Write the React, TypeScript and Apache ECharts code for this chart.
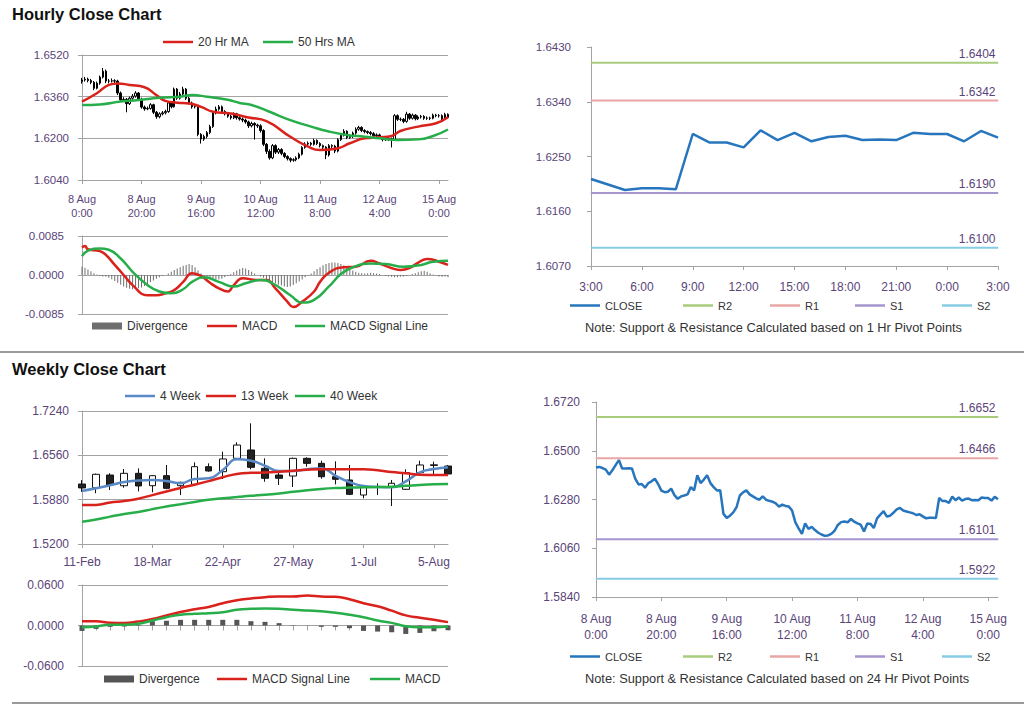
import { useEffect, useRef } from "react";
import * as echarts from "echarts";

const FONT = "'Liberation Sans', Arial, sans-serif";
const LABEL = "#5a4479";
const GRAY = "#a3a3a3";
const RED = "#d9221c";
const GREEN = "#27ae4a";
const BLUE4 = "#5a8ac6";
const CLOSE_BLUE = "#2776bd";
const LINE_ICON = "path://M0,0H12V1H0Z";

// ---------- Hourly data (8 Aug 0:00 .. 15 Aug 3:00) ----------
const hourlyTickLabels = ["8 Aug\n0:00", "8 Aug\n20:00", "9 Aug\n16:00", "10 Aug\n12:00", "11 Aug\n8:00", "12 Aug\n4:00", "15 Aug\n0:00"];

const hourlyClose = [
  1.6424, 1.6427, 1.6422, 1.6415, 1.6392, 1.6412, 1.6435, 1.6458, 1.6420, 1.6420,
  1.6421, 1.6420, 1.6374, 1.6348, 1.6350, 1.6333, 1.6354, 1.6362, 1.6374, 1.6350,
  1.6320, 1.6313, 1.6315, 1.6329, 1.6300, 1.6283, 1.6294, 1.6298, 1.6303, 1.6336,
  1.6321, 1.6389, 1.6354, 1.6370, 1.6389, 1.6354, 1.6336, 1.6321, 1.6322, 1.6215,
  1.6197, 1.6207, 1.6222, 1.6245, 1.6298, 1.6312, 1.6321, 1.6303, 1.6294, 1.6285,
  1.6279, 1.6294, 1.6279, 1.6274, 1.6270, 1.6263, 1.6248, 1.6257, 1.6251, 1.6248,
  1.6230, 1.6177, 1.6150, 1.6125, 1.6172, 1.6147, 1.6157, 1.6142, 1.6130, 1.6122,
  1.6116, 1.6118, 1.6125, 1.6139, 1.6165, 1.6178, 1.6181, 1.6177, 1.6192, 1.6180,
  1.6172, 1.6166, 1.6136, 1.6172, 1.6170, 1.6151, 1.6195, 1.6212, 1.6227, 1.6203,
  1.6207, 1.6220, 1.6235, 1.6242, 1.6230, 1.6226, 1.6222, 1.6218, 1.6210, 1.6213,
  1.6204, 1.6195, 1.6198, 1.6198, 1.6196, 1.6287, 1.6273, 1.6273, 1.6265, 1.6293,
  1.6277, 1.6289, 1.6275, 1.6282, 1.6284, 1.6277, 1.6278, 1.6277, 1.6289, 1.6287,
  1.6287, 1.6275, 1.6292, 1.6281,
];

const hourlyOpen = [
  1.6418, 1.6424, 1.6427, 1.6422, 1.6415, 1.6392, 1.6412, 1.6435, 1.6458, 1.6420,
  1.6420, 1.6421, 1.6420, 1.6374, 1.6348, 1.6350, 1.6333, 1.6354, 1.6362, 1.6374,
  1.6350, 1.6320, 1.6313, 1.6315, 1.6329, 1.6300, 1.6283, 1.6294, 1.6298, 1.6303,
  1.6336, 1.6321, 1.6389, 1.6354, 1.6370, 1.6389, 1.6354, 1.6336, 1.6321, 1.6322,
  1.6215, 1.6197, 1.6207, 1.6222, 1.6245, 1.6298, 1.6312, 1.6321, 1.6303, 1.6294,
  1.6285, 1.6279, 1.6294, 1.6279, 1.6274, 1.6270, 1.6263, 1.6248, 1.6257, 1.6251,
  1.6248, 1.6230, 1.6177, 1.6150, 1.6125, 1.6172, 1.6147, 1.6157, 1.6142, 1.6130,
  1.6122, 1.6116, 1.6118, 1.6125, 1.6139, 1.6165, 1.6178, 1.6181, 1.6177, 1.6192,
  1.6180, 1.6172, 1.6166, 1.6136, 1.6172, 1.6170, 1.6151, 1.6195, 1.6212, 1.6227,
  1.6203, 1.6207, 1.6220, 1.6235, 1.6242, 1.6230, 1.6226, 1.6222, 1.6218, 1.6210,
  1.6213, 1.6204, 1.6195, 1.6198, 1.6198, 1.6196, 1.6287, 1.6273, 1.6273, 1.6265,
  1.6293, 1.6277, 1.6289, 1.6275, 1.6282, 1.6284, 1.6277, 1.6278, 1.6277, 1.6289,
  1.6287, 1.6287, 1.6275, 1.6292,
];

const hourlyHigh = [
  1.6432, 1.6436, 1.6433, 1.6428, 1.6420, 1.6418, 1.6441, 1.6470, 1.6464, 1.6428,
  1.6430, 1.6427, 1.6425, 1.6380, 1.6358, 1.6355, 1.6360, 1.6370, 1.6381, 1.6378,
  1.6356, 1.6326, 1.6322, 1.6335, 1.6333, 1.6305, 1.6300, 1.6305, 1.6310, 1.6342,
  1.6340, 1.6395, 1.6393, 1.6378, 1.6398, 1.6393, 1.6360, 1.6341, 1.6330, 1.6326,
  1.6220, 1.6214, 1.6228, 1.6252, 1.6304, 1.6322, 1.6328, 1.6326, 1.6308, 1.6300,
  1.6291, 1.6300, 1.6298, 1.6285, 1.6280, 1.6276, 1.6268, 1.6264, 1.6262, 1.6256,
  1.6254, 1.6235, 1.6182, 1.6158, 1.6178, 1.6177, 1.6163, 1.6162, 1.6147, 1.6135,
  1.6127, 1.6124, 1.6131, 1.6145, 1.6170, 1.6185, 1.6188, 1.6186, 1.6199, 1.6196,
  1.6185, 1.6176, 1.6170, 1.6178, 1.6177, 1.6175, 1.6200, 1.6218, 1.6235, 1.6231,
  1.6214, 1.6226, 1.6242, 1.6248, 1.6246, 1.6235, 1.6230, 1.6228, 1.6224, 1.6219,
  1.6218, 1.6209, 1.6204, 1.6205, 1.6203, 1.6293, 1.6292, 1.6280, 1.6278, 1.6302,
  1.6297, 1.6295, 1.6293, 1.6288, 1.6290, 1.6289, 1.6284, 1.6283, 1.6295, 1.6294,
  1.6293, 1.6292, 1.6298, 1.6296,
];

const hourlyLow = [
  1.6410, 1.6418, 1.6415, 1.6408, 1.6385, 1.6388, 1.6406, 1.6430, 1.6412, 1.6411,
  1.6414, 1.6410, 1.6366, 1.6340, 1.6341, 1.6300, 1.6328, 1.6348, 1.6356, 1.6343,
  1.6314, 1.6306, 1.6308, 1.6310, 1.6293, 1.6275, 1.6277, 1.6288, 1.6292, 1.6298,
  1.6315, 1.6318, 1.6348, 1.6349, 1.6364, 1.6347, 1.6330, 1.6314, 1.6315, 1.6208,
  1.6180, 1.6190, 1.6200, 1.6216, 1.6240, 1.6292, 1.6306, 1.6297, 1.6288, 1.6279,
  1.6272, 1.6274, 1.6272, 1.6268, 1.6262, 1.6256, 1.6240, 1.6242, 1.6195, 1.6240,
  1.6222, 1.6170, 1.6140, 1.6118, 1.6120, 1.6140, 1.6140, 1.6135, 1.6124, 1.6115,
  1.6108, 1.6110, 1.6112, 1.6120, 1.6134, 1.6160, 1.6172, 1.6171, 1.6172, 1.6174,
  1.6165, 1.6158, 1.6120, 1.6130, 1.6163, 1.6143, 1.6146, 1.6190, 1.6207, 1.6197,
  1.6198, 1.6201, 1.6214, 1.6229, 1.6224, 1.6219, 1.6216, 1.6211, 1.6204, 1.6204,
  1.6198, 1.6188, 1.6190, 1.6190, 1.6165, 1.6192, 1.6267, 1.6266, 1.6258, 1.6260,
  1.6271, 1.6272, 1.6269, 1.6270, 1.6276, 1.6271, 1.6271, 1.6270, 1.6273, 1.6281,
  1.6280, 1.6269, 1.6271, 1.6275,
];

// [hour index, value] points
const ma20Hr = [
  [0, 1.6341], [5, 1.6373], [9, 1.6405], [12, 1.6411], [16, 1.6405], [21, 1.6396], [25, 1.6366],
  [28, 1.6344], [32, 1.6337], [36, 1.6334], [40, 1.6321], [44, 1.6302], [50, 1.6295], [56, 1.6280],
  [62, 1.6266], [70, 1.6206], [76, 1.6168], [80, 1.6155], [86, 1.6162], [90, 1.6181], [95, 1.6200],
  [100, 1.6204], [104, 1.6209], [107, 1.6228], [113, 1.6245], [119, 1.6258], [123, 1.6281],
];
const ma50Hrs = [
  [0, 1.6328], [6, 1.6330], [13, 1.6341], [19, 1.6347], [26, 1.6356], [33, 1.6360], [37, 1.6366],
  [42, 1.6360], [49, 1.6348], [53, 1.6336], [57, 1.6328], [63, 1.6302], [70, 1.6270], [77, 1.6245],
  [83, 1.6226], [89, 1.6213], [95, 1.6206], [100, 1.6200], [106, 1.6194], [113, 1.6196], [118, 1.6209],
  [123, 1.6234],
];

const hourlyMacd = [
  [0, 0.0060], [1, 0.0063], [2, 0.0056], [6, 0.0052], [8, 0.0044], [11, 0.0022], [14, 0.0000],
  [17, -0.0022], [22, -0.0044], [25, -0.0044], [28, -0.0040], [31, -0.0033], [34, -0.0015],
  [37, 0.0004], [40, -0.0002], [43, -0.0017], [46, -0.0029], [49, -0.0036], [51, -0.0022],
  [54, -0.0007], [59, -0.0011], [62, -0.0011], [65, -0.0029], [69, -0.0058], [71, -0.0070],
  [74, -0.0058], [78, -0.0036], [80, -0.0015], [83, 0.0005], [88, 0.0017], [92, 0.0018],
  [97, 0.0031], [100, 0.0025], [104, 0.0015], [107, 0.0011], [110, 0.0015], [113, 0.0027],
  [116, 0.0035], [120, 0.0029], [123, 0.0022],
];
const hourlySignal = [
  [0, 0.0041], [2, 0.0053], [6, 0.0058], [9, 0.0055], [13, 0.0036], [17, 0.0007], [22, -0.0022],
  [26, -0.0036], [30, -0.0040], [34, -0.0031], [37, -0.0015], [41, -0.0005], [46, -0.0015],
  [51, -0.0025], [55, -0.0018], [60, -0.0011], [64, -0.0018], [70, -0.0044], [74, -0.0060],
  [78, -0.0054], [83, -0.0025], [87, 0.0002], [91, 0.0017], [97, 0.0025], [102, 0.0024],
  [108, 0.0018], [114, 0.0022], [118, 0.0029], [123, 0.0031],
];
const hourlyDivergence = [
  0.0018, 0.0016, 0.0012, 0.0008, 0.0004, 0.0001, -0.0002, -0.0003, -0.0004, -0.0006,
  -0.0009, -0.0013, -0.0017, -0.0021, -0.0025, -0.0028, -0.0030, -0.0031, -0.0030, -0.0029,
  -0.0027, -0.0024, -0.0020, -0.0016, -0.0012, -0.0008, -0.0005, -0.0002, 0.0000, 0.0003,
  0.0007, 0.0011, 0.0014, 0.0017, 0.0020, 0.0022, 0.0024, 0.0022, 0.0017, 0.0010,
  0.0003, -0.0002, -0.0005, -0.0008, -0.0010, -0.0011, -0.0010, -0.0008, -0.0005, -0.0002,
  0.0002, 0.0006, 0.0010, 0.0013, 0.0015, 0.0014, 0.0011, 0.0007, 0.0003, 0.0000,
  -0.0003, -0.0006, -0.0009, -0.0012, -0.0015, -0.0018, -0.0021, -0.0023, -0.0025, -0.0026,
  -0.0025, -0.0022, -0.0018, -0.0014, -0.0010, -0.0005, -0.0001, 0.0003, 0.0008, 0.0013,
  0.0017, 0.0021, 0.0024, 0.0026, 0.0027, 0.0027, 0.0026, 0.0024, 0.0021, 0.0017,
  0.0013, 0.0010, 0.0007, 0.0005, 0.0004, 0.0003, 0.0004, 0.0005, 0.0004, 0.0003,
  0.0002, 0.0000, -0.0002, -0.0003, -0.0004, -0.0005, -0.0005, -0.0004, -0.0003, -0.0002,
  0.0000, 0.0002, 0.0004, 0.0006, 0.0008, 0.0009, 0.0007, 0.0004, 0.0001, -0.0001,
  -0.0003, -0.0004, -0.0003, -0.0005,
];

// ---------- Last 24 hours (1 Hr pivots) ----------
const oneHourTicks = ["3:00", "6:00", "9:00", "12:00", "15:00", "18:00", "21:00", "0:00", "3:00"];
const oneHourClose = [
  1.6213, 1.6204, 1.6195, 1.6198, 1.6198, 1.6196, 1.6287, 1.6273, 1.6273, 1.6265,
  1.6293, 1.6277, 1.6289, 1.6275, 1.6282, 1.6284, 1.6277, 1.6278, 1.6277, 1.6289,
  1.6287, 1.6287, 1.6275, 1.6292, 1.6281,
];
const pivotNames = ["R2", "R1", "S1", "S2"];
const pivotColors = ["#a8cc7c", "#eaa6a6", "#a696cf", "#87cbe5"];
const oneHourPivots = [1.6404, 1.6342, 1.6190, 1.6100];
const dayPivots = [1.6652, 1.6466, 1.6101, 1.5922];

// ---------- Weekly data ----------
const weeklyDates = [
  "11-Feb", "18-Feb", "25-Feb", "4-Mar", "11-Mar", "18-Mar", "25-Mar", "1-Apr", "8-Apr",
  "15-Apr", "22-Apr", "29-Apr", "6-May", "13-May", "20-May", "27-May", "3-Jun", "10-Jun",
  "17-Jun", "24-Jun", "1-Jul", "8-Jul", "15-Jul", "22-Jul", "29-Jul", "5-Aug", "12-Aug",
];
const weeklyOpen = [
  1.6120, 1.6063, 1.6258, 1.6094, 1.6284, 1.6094, 1.6248, 1.6094, 1.6115, 1.6386,
  1.6309, 1.6514, 1.6642, 1.6361, 1.6258, 1.6243, 1.6514, 1.6437, 1.6232, 1.6182,
  1.5951, 1.6075, 1.6069, 1.6039, 1.6294, 1.6405, 1.6396,
];
const weeklyClose = [
  1.6060, 1.6269, 1.6105, 1.6284, 1.6090, 1.6248, 1.6054, 1.6146, 1.6386, 1.6320,
  1.6504, 1.6718, 1.6376, 1.6208, 1.6208, 1.6514, 1.6437, 1.6232, 1.6192, 1.5962,
  1.6069, 1.6082, 1.6131, 1.6294, 1.6412, 1.6415, 1.6274,
];
const weeklyLow = [
  1.6000, 1.5978, 1.6028, 1.6063, 1.6006, 1.5993, 1.6040, 1.5951, 1.6100, 1.6309,
  1.6197, 1.6504, 1.6346, 1.6155, 1.6105, 1.6074, 1.6386, 1.6202, 1.6114, 1.5951,
  1.5900, 1.5951, 1.5783, 1.6028, 1.6258, 1.6260, 1.6258,
];
const weeklyHigh = [
  1.6180, 1.6280, 1.6284, 1.6350, 1.6360, 1.6258, 1.6412, 1.6155, 1.6452, 1.6437,
  1.6616, 1.6760, 1.7051, 1.6514, 1.6309, 1.6525, 1.6530, 1.6478, 1.6468, 1.6412,
  1.6105, 1.6130, 1.6182, 1.6346, 1.6478, 1.6463, 1.6412,
];
const ma4Week = [
  1.6013, 1.6054, 1.6100, 1.6150, 1.6175, 1.6180, 1.6166, 1.6131, 1.6197, 1.6208,
  1.6335, 1.6499, 1.6478, 1.6400, 1.6320, 1.6320, 1.6346, 1.6361, 1.6250, 1.6150,
  1.6090, 1.6075, 1.6069, 1.6160, 1.6300, 1.6350, 1.6376,
];
const ma13Week = [
  1.5798, 1.5800, 1.5835, 1.5860, 1.5895, 1.5950, 1.6005, 1.6060, 1.6110, 1.6165,
  1.6225, 1.6275, 1.6292, 1.6296, 1.6309, 1.6325, 1.6340, 1.6346, 1.6346, 1.6346,
  1.6346, 1.6330, 1.6305, 1.6285, 1.6262, 1.6258, 1.6258,
];
const ma40Week = [
  1.5542, 1.5575, 1.5620, 1.5660, 1.5690, 1.5735, 1.5775, 1.5809, 1.5845, 1.5880,
  1.5901, 1.5920, 1.5940, 1.5955, 1.5975, 1.6000, 1.6025, 1.6045, 1.6058, 1.6065,
  1.6069, 1.6074, 1.6080, 1.6092, 1.6105, 1.6115, 1.6120,
];
const weeklyDivergence = [
  -0.0080, -0.0050, -0.0020, -0.0015, 0.0010, 0.0064, 0.0070, 0.0084, 0.0084, 0.0084,
  0.0084, 0.0084, 0.0064, 0.0054, 0.0035, 0.0005, 0.0002, -0.0020, -0.0020, -0.0040,
  -0.0080, -0.0090, -0.0100, -0.0125, -0.0110, -0.0085, -0.0070,
];
const weeklySignal = [
  0.0064, 0.0062, 0.0040, 0.0036, 0.0059, 0.0095, 0.0150, 0.0200, 0.0240, 0.0275,
  0.0330, 0.0375, 0.0400, 0.0420, 0.0430, 0.0430, 0.0445, 0.0430, 0.0425, 0.0390,
  0.0330, 0.0285, 0.0220, 0.0150, 0.0115, 0.0085, 0.0050,
];
const weeklyMacd = [
  -0.0025, -0.0015, 0.0010, 0.0010, 0.0025, 0.0074, 0.0123, 0.0158, 0.0173, 0.0183,
  0.0197, 0.0232, 0.0247, 0.0252, 0.0247, 0.0232, 0.0222, 0.0212, 0.0188, 0.0158,
  0.0123, 0.0074, 0.0039, -0.0010, -0.0025, -0.0025, -0.0015,
];

// ---------- helpers ----------
const f4 = (v: number) => v.toFixed(4);

function yAx(gridIndex: number, min: number, max: number, interval: number, split: boolean, margin: number, fontSize: number) {
  return {
    type: "value", gridIndex, min, max, interval,
    axisLine: { show: true, lineStyle: { color: GRAY, width: 1 } },
    axisTick: { show: true, length: 4, lineStyle: { color: GRAY } },
    splitLine: { show: split, lineStyle: { color: GRAY, width: 1 } },
    axisLabel: { color: LABEL, fontSize, fontFamily: FONT, margin, formatter: f4 },
  };
}

function lg(name: string, left: number, top: number, icon: string = LINE_ICON, fontSize = 12) {
  return {
    data: [{ name, icon }], left, top, padding: 0, itemWidth: 30, itemHeight: 7,
    selectedMode: false, textStyle: { fontSize, color: "#333", fontFamily: FONT },
  };
}

function pivot(name: string, level: number, color: string, lastIndex: number) {
  return {
    name, type: "line", symbol: "circle", symbolSize: 1, showSymbol: true,
    data: [
      [0, level],
      {
        value: [lastIndex, level],
        label: { show: true, position: "left", offset: [0, -9], distance: 2, formatter: f4(level), color: LABEL, fontSize: 12, fontFamily: FONT },
      },
    ],
    lineStyle: { color, width: 2 }, itemStyle: { color },
  };
}

function hourLabel(v: string) {
  const i = Number(v);
  return i % 20 === 0 ? hourlyTickLabels[i / 20] ?? "" : "";
}

const hourCats = hourlyClose.map((_, i) => String(i));
const oneHourCats = oneHourClose.map((_, i) => String(i));

// ---------- options ----------
const optHourlyLeft = {
  animation: false,
  title: { text: "Hourly Close Chart", left: 12, top: 5, padding: 0, textStyle: { fontSize: 16.5, fontWeight: "bold", color: "#111", fontFamily: FONT } },
  legend: [
    lg("20 Hr MA", 163, 36), lg("50 Hrs MA", 263, 36),
    lg("Divergence", 92, 320, "rect"), lg("MACD", 207, 320), lg("MACD Signal Line", 295, 320),
  ],
  grid: [
    { left: 82, top: 55, width: 366, height: 125 },
    { left: 82, top: 236, width: 366, height: 78 },
  ],
  xAxis: [
    {
      type: "category", gridIndex: 0, data: hourCats, boundaryGap: false,
      axisLine: { lineStyle: { color: GRAY } },
      axisTick: { show: true, interval: 19, length: 4, lineStyle: { color: GRAY } },
      axisLabel: { interval: 19, formatter: hourLabel, color: LABEL, fontSize: 11, fontFamily: FONT, lineHeight: 14, margin: 12 },
      splitLine: { show: false },
    },
    {
      type: "category", gridIndex: 1, data: hourCats, boundaryGap: false,
      axisLine: { onZero: true, lineStyle: { color: GRAY } },
      axisTick: { show: false }, axisLabel: { show: false }, splitLine: { show: false },
    },
  ],
  yAxis: [
    yAx(0, 1.6040, 1.6520, 0.016, true, 13, 11.5),
    yAx(1, -0.0085, 0.0085, 0.0085, true, 18, 11.5),
  ],
  series: [
    {
      name: "Hourly", type: "candlestick", xAxisIndex: 0, yAxisIndex: 0, barWidth: 2, clip: true,
      data: hourlyClose.map((c, i) => [hourlyOpen[i], c, hourlyLow[i], hourlyHigh[i]]),
      itemStyle: { color: "#fff", color0: "#000", borderColor: "#000", borderColor0: "#000", borderWidth: 1 },
    },
    { name: "20 Hr MA", type: "line", xAxisIndex: 0, yAxisIndex: 0, data: ma20Hr, smooth: true, symbol: "none", lineStyle: { color: RED, width: 2.5 }, itemStyle: { color: RED } },
    { name: "50 Hrs MA", type: "line", xAxisIndex: 0, yAxisIndex: 0, data: ma50Hrs, smooth: true, symbol: "none", lineStyle: { color: GREEN, width: 2.5 }, itemStyle: { color: GREEN } },
    { name: "Divergence", type: "bar", xAxisIndex: 1, yAxisIndex: 1, data: hourlyDivergence, barWidth: 1, itemStyle: { color: "#6e6e6e" } },
    { name: "MACD", type: "line", xAxisIndex: 1, yAxisIndex: 1, data: hourlyMacd, smooth: true, symbol: "none", lineStyle: { color: RED, width: 2.5 }, itemStyle: { color: RED } },
    { name: "MACD Signal Line", type: "line", xAxisIndex: 1, yAxisIndex: 1, data: hourlySignal, smooth: true, symbol: "none", lineStyle: { color: GREEN, width: 2.5 }, itemStyle: { color: GREEN } },
  ],
};

const rightLegends = (top: number) => [
  lg("CLOSE", 58, top, LINE_ICON, 11), lg("R2", 171, top, LINE_ICON, 11), lg("R1", 258, top, LINE_ICON, 11),
  lg("S1", 343, top, LINE_ICON, 11), lg("S2", 430, top, LINE_ICON, 11),
];

const optOneHour = {
  animation: false,
  legend: rightLegends(300),
  grid: { left: 79, top: 47, width: 407, height: 219 },
  xAxis: {
    type: "category", data: oneHourCats, boundaryGap: false,
    axisLine: { lineStyle: { color: GRAY } },
    axisTick: { show: true, interval: 2, length: 4, lineStyle: { color: GRAY } },
    axisLabel: { interval: 2, formatter: (v: string) => oneHourTicks[Number(v) / 3] ?? "", color: LABEL, fontSize: 12, fontFamily: FONT, margin: 15 },
    splitLine: { show: false },
  },
  yAxis: yAx(0, 1.6070, 1.6430, 0.009, false, 20, 11.5),
  graphic: [
    { type: "text", left: 73, top: 321, style: { text: "Note: Support & Resistance Calculated based on 1 Hr Pivot Points", fontSize: 12.8, fill: "#333", fontFamily: FONT } },
  ],
  series: [
    { name: "CLOSE", type: "line", data: oneHourClose, symbol: "none", lineStyle: { color: CLOSE_BLUE, width: 2.5 }, itemStyle: { color: CLOSE_BLUE }, z: 3 },
    ...pivotNames.map((n, i) => pivot(n, oneHourPivots[i], pivotColors[i], oneHourClose.length - 1)),
  ],
};

const optWeeklyLeft = {
  animation: false,
  title: { text: "Weekly Close Chart", left: 12, top: 8, padding: 0, textStyle: { fontSize: 16.5, fontWeight: "bold", color: "#111", fontFamily: FONT } },
  legend: [
    lg("4 Week", 125, 38), lg("13 Week", 206, 38), lg("40 Week", 295, 38),
    lg("Divergence", 104, 321, "rect"), lg("MACD Signal Line", 217, 321), lg("MACD", 370, 321),
  ],
  grid: [
    { left: 82, top: 59, width: 366, height: 133 },
    { left: 82, top: 233, width: 366, height: 81 },
  ],
  xAxis: [
    {
      type: "category", gridIndex: 0, data: weeklyDates, boundaryGap: false,
      axisLine: { lineStyle: { color: GRAY } },
      axisTick: { show: true, interval: 4, length: 4, lineStyle: { color: GRAY } },
      axisLabel: { interval: 4, color: LABEL, fontSize: 12, fontFamily: FONT, margin: 12 },
      splitLine: { show: false },
    },
    {
      type: "category", gridIndex: 1, data: weeklyDates, boundaryGap: false,
      axisLine: { onZero: true, lineStyle: { color: GRAY } },
      axisTick: { show: true, interval: 0, length: 5, lineStyle: { color: GRAY } },
      axisLabel: { show: false }, splitLine: { show: false },
    },
  ],
  yAxis: [
    yAx(0, 1.5200, 1.7240, 0.068, true, 13, 12),
    yAx(1, -0.06, 0.06, 0.06, true, 18, 12),
  ],
  series: [
    {
      name: "Weekly", type: "candlestick", xAxisIndex: 0, yAxisIndex: 0, barWidth: 7, clip: true,
      data: weeklyClose.map((c, i) => [weeklyOpen[i], c, weeklyLow[i], weeklyHigh[i]]),
      itemStyle: { color: "#fff", color0: "#222", borderColor: "#111", borderColor0: "#111", borderWidth: 1 },
    },
    { name: "4 Week", type: "line", xAxisIndex: 0, yAxisIndex: 0, data: ma4Week, smooth: true, symbol: "none", lineStyle: { color: BLUE4, width: 2.5 }, itemStyle: { color: BLUE4 } },
    { name: "13 Week", type: "line", xAxisIndex: 0, yAxisIndex: 0, data: ma13Week, smooth: true, symbol: "none", lineStyle: { color: RED, width: 2.5 }, itemStyle: { color: RED } },
    { name: "40 Week", type: "line", xAxisIndex: 0, yAxisIndex: 0, data: ma40Week, smooth: true, symbol: "none", lineStyle: { color: GREEN, width: 2.5 }, itemStyle: { color: GREEN } },
    { name: "Divergence", type: "bar", xAxisIndex: 1, yAxisIndex: 1, data: weeklyDivergence, barWidth: 5, itemStyle: { color: "#555" } },
    { name: "MACD Signal Line", type: "line", xAxisIndex: 1, yAxisIndex: 1, data: weeklySignal, smooth: true, symbol: "none", lineStyle: { color: RED, width: 2.5 }, itemStyle: { color: RED } },
    { name: "MACD", type: "line", xAxisIndex: 1, yAxisIndex: 1, data: weeklyMacd, smooth: true, symbol: "none", lineStyle: { color: GREEN, width: 2.5 }, itemStyle: { color: GREEN } },
  ],
};

const optDay = {
  animation: false,
  legend: rightLegends(299),
  grid: { left: 84, top: 50, width: 402, height: 195 },
  xAxis: {
    type: "category", data: hourCats, boundaryGap: false,
    axisLine: { lineStyle: { color: GRAY } },
    axisTick: { show: true, interval: 19, length: 4, lineStyle: { color: GRAY } },
    axisLabel: { interval: 19, formatter: hourLabel, color: LABEL, fontSize: 12, fontFamily: FONT, lineHeight: 16, margin: 14 },
    splitLine: { show: false },
  },
  yAxis: yAx(0, 1.5840, 1.6720, 0.022, false, 16, 12),
  graphic: [
    { type: "text", left: 73, top: 320, style: { text: "Note: Support & Resistance Calculated based on 24 Hr Pivot Points", fontSize: 12.8, fill: "#333", fontFamily: FONT } },
  ],
  series: [
    { name: "CLOSE", type: "line", data: hourlyClose, symbol: "none", lineStyle: { color: CLOSE_BLUE, width: 2.5 }, itemStyle: { color: CLOSE_BLUE }, z: 3 },
    ...pivotNames.map((n, i) => pivot(n, dayPivots[i], pivotColors[i], hourlyClose.length - 1)),
  ],
};

export default function App() {
  const a = useRef<HTMLDivElement>(null);
  const b = useRef<HTMLDivElement>(null);
  const c = useRef<HTMLDivElement>(null);
  const d = useRef<HTMLDivElement>(null);

  useEffect(() => {
    const pairs: [HTMLDivElement | null, any][] = [
      [a.current, optHourlyLeft], [b.current, optOneHour], [c.current, optWeeklyLeft], [d.current, optDay],
    ];
    const charts = pairs.map(([el, opt]) => {
      const ch = echarts.init(el as HTMLDivElement, null, { renderer: "svg" });
      ch.setOption(opt);
      return ch;
    });
    return () => charts.forEach((ch) => ch.dispose());
  }, []);

  return (
    <div style={{ position: "fixed", left: 0, top: 0, width: 1024, height: 706, background: "#fff", overflow: "hidden" }}>
      <div ref={a} style={{ position: "absolute", left: 0, top: 0, width: 512, height: 352 }} />
      <div ref={b} style={{ position: "absolute", left: 512, top: 0, width: 512, height: 352 }} />
      <div ref={c} style={{ position: "absolute", left: 0, top: 352, width: 512, height: 354 }} />
      <div ref={d} style={{ position: "absolute", left: 512, top: 352, width: 512, height: 354 }} />
      <div style={{ position: "absolute", left: 0, top: 351, width: 1024, height: 2, background: "#9a9a9a" }} />
      <div style={{ position: "absolute", left: 12, top: 702, width: 1012, height: 2, background: "#9a9a9a" }} />
    </div>
  );
}
